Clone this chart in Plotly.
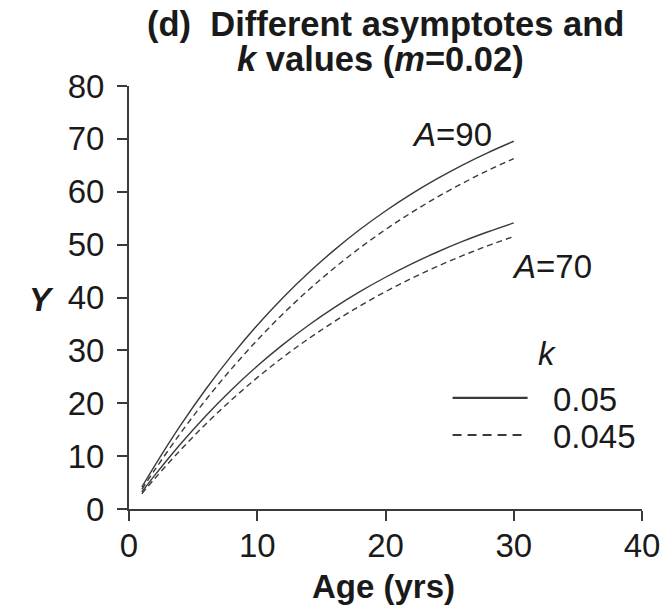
import plotly.graph_objects as go

# Ages (yrs)
age = [1, 2, 4, 6, 8, 10, 12, 14, 16, 18, 20, 22, 24, 26, 28, 30]

# Y values
y_a90_k050 = [4.13, 8.16, 15.75, 22.69, 29.0, 34.75, 39.96, 44.68, 48.96, 52.85, 56.36, 59.55, 62.43, 65.05, 67.41, 69.55]
y_a90_k045 = [3.72, 7.37, 14.29, 20.67, 26.55, 31.94, 36.89, 41.42, 45.57, 49.37, 52.85, 56.02, 58.93, 61.60, 64.04, 66.26]
y_a70_k050 = [3.21, 6.35, 12.25, 17.65, 22.56, 27.03, 31.08, 34.75, 38.08, 41.10, 43.83, 46.32, 48.56, 50.60, 52.43, 54.10]
y_a70_k045 = [2.89, 5.73, 11.11, 16.08, 20.65, 24.84, 28.69, 32.21, 35.44, 38.40, 41.10, 43.58, 45.84, 47.91, 49.81, 51.53]

x_ticks = [0, 10, 20, 30, 40]
y_ticks = [0, 10, 20, 30, 40, 50, 60, 70, 80]
k_labels = ["0.05", "0.045"]

FONT = "Liberation Sans, Arial, sans-serif"
LINE_COL = "#3a3a3a"
SOLID_W = 1.4
DASH = "6px,4px"

# plot area in pixels (for placing paper-referenced text)
L, R, T, B = 129, 649, 86, 509
def px(x):
    return (x - L) / (R - L)
def py(y):
    return (B - y) / (B - T)

fig = go.Figure()
for ys, dash in [(y_a90_k050, "solid"), (y_a90_k045, DASH), (y_a70_k050, "solid"), (y_a70_k045, DASH)]:
    fig.add_trace(go.Scatter(x=age, y=ys, mode="lines",
                             line=dict(color=LINE_COL, width=SOLID_W, dash=dash, shape="spline"),
                             showlegend=False, hoverinfo="skip"))

ann = []
def txt(text, x, y, size=33, xanchor="center", yanchor="middle"):
    ann.append(dict(text=text, x=px(x), y=py(y), xref="paper", yref="paper", showarrow=False,
                    font=dict(family=FONT, size=size, color="#1a1a1a"),
                    xanchor=xanchor, yanchor=yanchor))

txt("<b>(d)\u00a0\u00a0Different asymptotes and</b>", 389.5, 24, size=34.5)
txt("<b><i>k</i> values (<i>m</i>=0.02)</b>", 383.5, 59, size=34.5)
txt("<b><i>Y</i></b>", 40, 299, size=33)
txt("<b>Age (yrs)</b>", 387, 586, size=33)
txt("<i>A</i>=90", 456, 135, size=33)
txt("<i>A</i>=70", 558, 266, size=33)
txt("<i>k</i>", 553, 353, size=33)
txt(k_labels[0], 557, 399, size=33, xanchor="left")
txt(k_labels[1], 557, 436, size=33, xanchor="left")

shapes = [
    dict(type="line", xref="x", yref="y", x0=25.23, x1=31.08, y0=21.0, y1=21.0,
         line=dict(color=LINE_COL, width=2.2)),
    dict(type="line", xref="x", yref="y", x0=25.23, x1=31.08, y0=14.0, y1=14.0,
         line=dict(color=LINE_COL, width=2.2, dash="9px,6px")),
]

axis_common = dict(showgrid=False, zeroline=False, showline=True, linecolor="#3a3a3a", linewidth=2,
                   ticks="outside", ticklen=10, tickwidth=2, tickcolor="#3a3a3a",
                   tickfont=dict(family=FONT, size=33, color="#1a1a1a"))

fig.update_layout(
    width=672, height=610,
    margin=dict(l=129, r=23, t=86, b=101, pad=0),
    paper_bgcolor="white", plot_bgcolor="white",
    xaxis=dict(range=[0, 40], tickvals=x_ticks, ticklabelstandoff=-4, **axis_common),
    yaxis=dict(range=[0, 80], tickvals=y_ticks, ticklabelstandoff=6, **axis_common),
    annotations=ann, shapes=shapes, showlegend=False,
)

fig.write_html("out.html")
